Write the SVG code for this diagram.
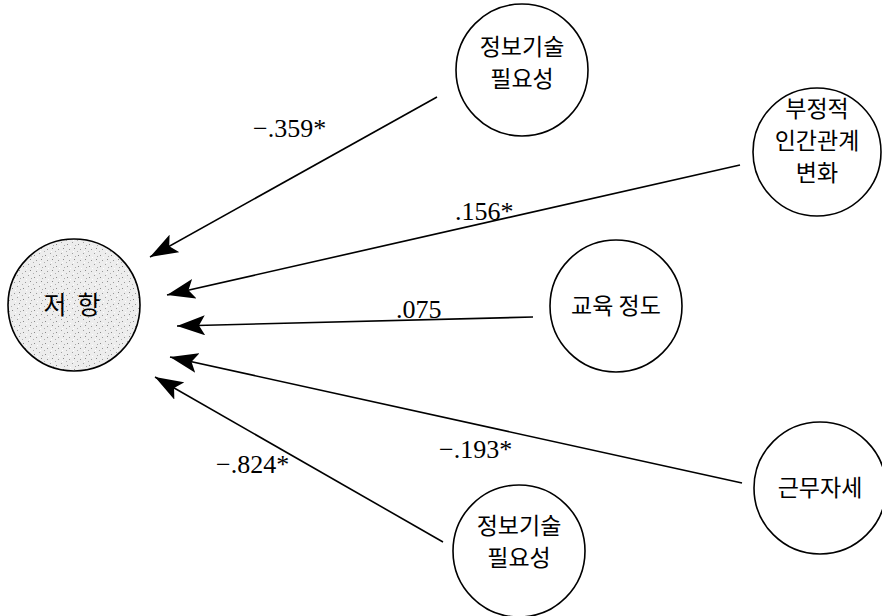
<svg xmlns="http://www.w3.org/2000/svg" width="882" height="616" viewBox="0 0 882 616">
<defs>
<marker id="ah" markerUnits="userSpaceOnUse" markerWidth="28" markerHeight="20" refX="28" refY="10" orient="auto">
<path d="M0,0 L28,10 L0,20 L6,10 z" fill="#000"/>
</marker>
<pattern id="stip" patternUnits="userSpaceOnUse" width="11" height="11">
<rect width="11" height="11" fill="#ededed"/>
<rect x="1" y="2" width="1" height="1" fill="#8a8a8a"/>
<rect x="6" y="0" width="1" height="1" fill="#a0a0a0"/>
<rect x="8" y="6" width="1" height="1" fill="#8a8a8a"/>
<rect x="3" y="7" width="1" height="1" fill="#999"/>
<rect x="0" y="9" width="1" height="1" fill="#b0b0b0"/>
<rect x="9" y="3" width="1" height="1" fill="#aaa"/>
<rect x="4" y="4" width="1" height="1" fill="#fff"/>
<rect x="7" y="9" width="1" height="1" fill="#fff"/>
</pattern>
</defs>
<style>
.node{fill:#fff;stroke:#000;stroke-width:1.6}
.kr{font-family:"Noto Sans CJK KR","Noto Sans",sans-serif;font-size:23px;fill:#000;text-anchor:middle}
.lbl{font-family:"Liberation Serif",serif;font-size:26px;fill:#000}
.edge{stroke:#000;stroke-width:1.6;fill:none;marker-end:url(#ah)}
</style>
<rect width="882" height="616" fill="#fff"/>
<g id="connectors">
<line class="edge" x1="437" y1="97" x2="150" y2="257"/>
<line class="edge" x1="740" y1="165" x2="167" y2="295"/>
<line class="edge" x1="533" y1="317" x2="177" y2="326"/>
<line class="edge" x1="742" y1="483" x2="170" y2="357"/>
<line class="edge" x1="443" y1="542" x2="155" y2="377"/>
</g>
<g id="labels">
<text class="lbl" x="253" y="137">−.359*</text>
<text class="lbl" x="455" y="220">.156*</text>
<text class="lbl" x="396" y="318">.075</text>
<text class="lbl" x="439" y="458">−.193*</text>
<text class="lbl" x="216" y="473">−.824*</text>
</g>
<g id="resistance">
<circle cx="74" cy="305" r="66" fill="url(#stip)" stroke="#000" stroke-width="1.6"/>
<text class="kr" x="72" y="314" style="white-space:pre;font-size:25px">저  항</text>
</g>
<g id="it-need-top">
<circle class="node" cx="522" cy="70" r="66"/>
<text class="kr" x="522" y="55">정보기술</text>
<text class="kr" x="522" y="87">필요성</text>
</g>
<g id="negative-relations">
<circle class="node" cx="817" cy="152" r="64"/>
<text class="kr" x="817" y="117">부정적</text>
<text class="kr" x="817" y="149">인간관계</text>
<text class="kr" x="817" y="181">변화</text>
</g>
<g id="education">
<circle class="node" cx="616" cy="306" r="66"/>
<text class="kr" x="616" y="314">교육 정도</text>
</g>
<g id="work-attitude">
<circle class="node" cx="820" cy="488" r="66"/>
<text class="kr" x="820" y="496">근무자세</text>
</g>
<g id="it-need-bottom">
<circle class="node" cx="519" cy="551" r="66"/>
<text class="kr" x="519" y="534">정보기술</text>
<text class="kr" x="519" y="566">필요성</text>
</g>
</svg>
